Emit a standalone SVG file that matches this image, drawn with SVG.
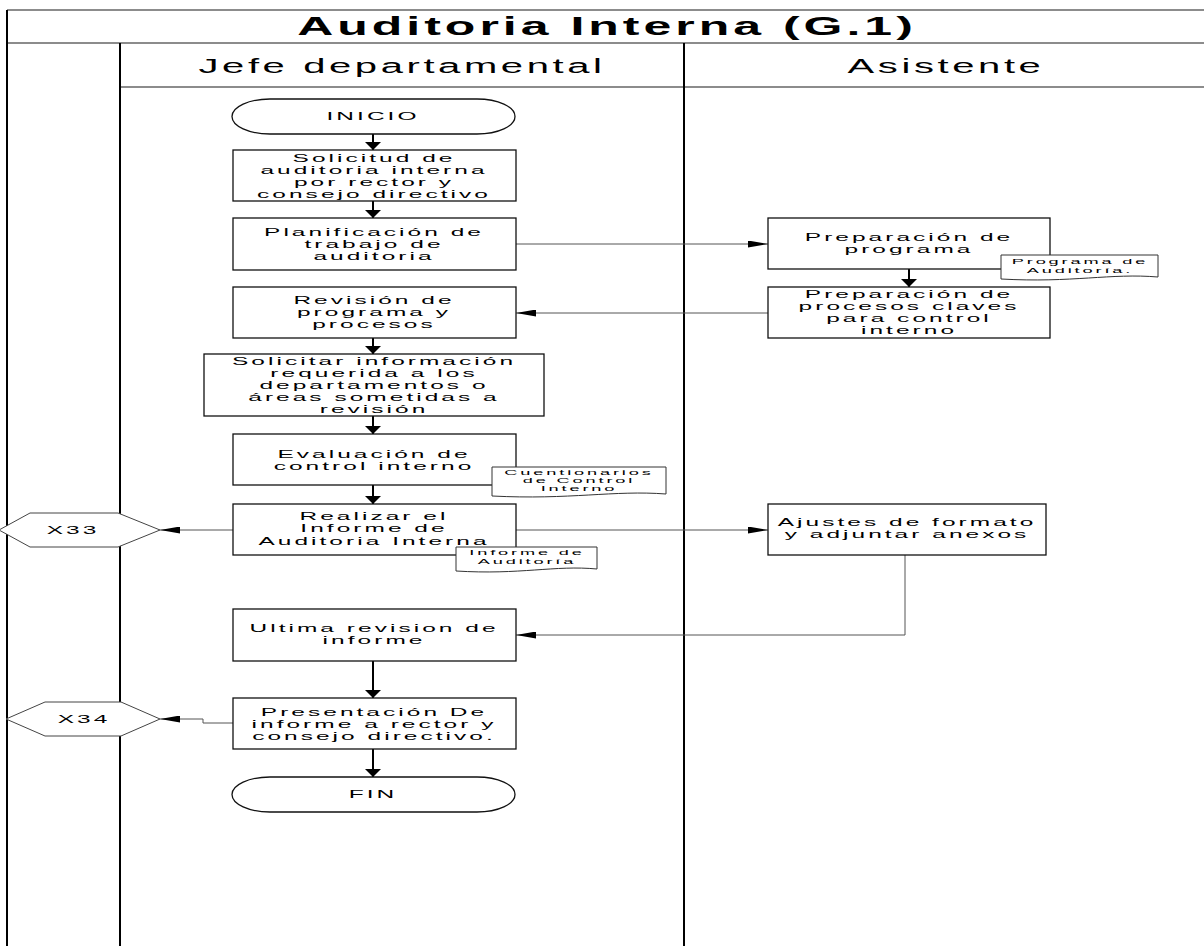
<svg xmlns="http://www.w3.org/2000/svg" width="1204" height="946" viewBox="0 0 1204 946">
<style>
text{font-family:"Liberation Sans",Arial,sans-serif;fill:#000;text-anchor:middle}
.title{font-size:25px;font-weight:bold;letter-spacing:2px}
.h{font-size:20px;letter-spacing:1.8px}
.t{font-size:10.4px;letter-spacing:1.3px}
.s{font-size:7px;letter-spacing:1.1px}
.box{fill:#fff;stroke:#111;stroke-width:1.3}
.doc{fill:#fff;stroke:#333;stroke-width:1}
.hex{fill:#fff;stroke:#444;stroke-width:1}
.lv{stroke:#000;stroke-width:2;fill:none}
.lh{stroke:#666;stroke-width:1.5;fill:none}
.cv{stroke:#000;stroke-width:2;fill:none;marker-end:url(#ad)}
.ch{stroke:#555;stroke-width:1;fill:none;marker-end:url(#ah)}
</style>
<defs>
<marker id="ad" markerUnits="userSpaceOnUse" viewBox="0 0 8 16" markerWidth="8" markerHeight="16" refX="8" refY="8" orient="auto"><path d="M0,0 L8,8 L0,16 Z" fill="#000"/></marker>
<marker id="ah" markerUnits="userSpaceOnUse" viewBox="0 0 20 7" markerWidth="20" markerHeight="7" refX="20" refY="3.5" orient="auto"><path d="M0,0 L20,3.5 L0,7 Z" fill="#000"/></marker>
</defs>
<rect width="1204" height="946" fill="#fff"/>
<g id="frame">
<line class="lh" x1="7" y1="10" x2="1204" y2="10"/>
<line class="lh" x1="7" y1="43" x2="1204" y2="43"/>
<line class="lh" x1="120" y1="87" x2="1204" y2="87"/>
<line class="lv" x1="7" y1="10" x2="7" y2="946"/>
<line class="lv" x1="120" y1="43" x2="120" y2="946"/>
<line class="lv" x1="684" y1="43" x2="684" y2="946"/>
<text class="title" transform="translate(607 0) scale(2 1)" y="35">Auditoria Interna (G.1)</text>
<text class="h" transform="translate(402 0) scale(2 1)" y="73">Jefe departamental</text>
<text class="h" transform="translate(946 0) scale(2 1)" y="73">Asistente</text>
</g>
<g id="connectors">
<line class="cv" x1="373" y1="134" x2="373" y2="150"/>
<line class="cv" x1="373" y1="201" x2="373" y2="218"/>
<line class="ch" x1="516" y1="244" x2="768" y2="244"/>
<line class="cv" x1="909" y1="269" x2="909" y2="287"/>
<line class="ch" x1="768" y1="313" x2="516" y2="313"/>
<line class="cv" x1="373" y1="338" x2="373" y2="354"/>
<line class="cv" x1="373" y1="416" x2="373" y2="434"/>
<line class="cv" x1="373" y1="485" x2="373" y2="504"/>
<line class="ch" x1="233" y1="530" x2="160" y2="530"/>
<line class="ch" x1="516" y1="530" x2="768" y2="530"/>
<polyline class="ch" points="905,555 905,635 516,635"/>
<line class="cv" x1="373" y1="661" x2="373" y2="698"/>
<polyline class="ch" points="233,723 203,723 203,719 160,719"/>
<line class="cv" x1="373" y1="749" x2="373" y2="777"/>
</g>
<g id="inicio">
<rect class="box" x="232" y="99" width="283" height="35" rx="38" ry="17.5"/>
<text class="t" transform="translate(373 0) scale(2.35 1)" y="120">INICIO</text>
</g>
<g id="solicitud">
<rect class="box" x="233" y="150" width="283" height="51"/>
<text class="t" transform="translate(374 0) scale(2.35 1)" y="162"><tspan x="0">Solicitud de</tspan><tspan x="0" dy="12">auditoria interna</tspan><tspan x="0" dy="12">por rector y</tspan><tspan x="0" dy="12">consejo directivo</tspan></text>
</g>
<g id="planificacion">
<rect class="box" x="233" y="218" width="283" height="52"/>
<text class="t" transform="translate(374 0) scale(2.35 1)" y="236"><tspan x="0">Planificación de</tspan><tspan x="0" dy="12">trabajo de</tspan><tspan x="0" dy="12">auditoria</tspan></text>
</g>
<g id="prep-programa">
<rect class="box" x="768" y="218" width="282" height="51"/>
<text class="t" transform="translate(909 0) scale(2.35 1)" y="241"><tspan x="0">Preparación de</tspan><tspan x="0" dy="12">programa</tspan></text>
</g>
<g id="doc-programa">
<path class="doc" d="M1001 255 H1158 V277 C1111 273 1072 283 1001 279 Z"/>
<text class="s" transform="translate(1080 0) scale(2.6 1)" y="264.5"><tspan x="0">Programa de</tspan><tspan x="0" dy="8.5">Auditoría.</tspan></text>
</g>
<g id="prep-procesos">
<rect class="box" x="768" y="287" width="282" height="51"/>
<text class="t" transform="translate(909 0) scale(2.35 1)" y="298"><tspan x="0">Preparación de</tspan><tspan x="0" dy="12">procesos claves</tspan><tspan x="0" dy="12">para control</tspan><tspan x="0" dy="12">interno</tspan></text>
</g>
<g id="revision">
<rect class="box" x="233" y="287" width="283" height="51"/>
<text class="t" transform="translate(374 0) scale(2.35 1)" y="304"><tspan x="0">Revisión de</tspan><tspan x="0" dy="12">programa y</tspan><tspan x="0" dy="12">procesos</tspan></text>
</g>
<g id="solicitar">
<rect class="box" x="204" y="354" width="340" height="62"/>
<text class="t" transform="translate(374 0) scale(2.35 1)" y="365"><tspan x="0">Solicitar información</tspan><tspan x="0" dy="12">requerida a los</tspan><tspan x="0" dy="12">departamentos o</tspan><tspan x="0" dy="12">áreas sometidas a</tspan><tspan x="0" dy="12">revisión</tspan></text>
</g>
<g id="evaluacion">
<rect class="box" x="233" y="434" width="283" height="51"/>
<text class="t" transform="translate(374 0) scale(2.35 1)" y="458"><tspan x="0">Evaluación de</tspan><tspan x="0" dy="12">control interno</tspan></text>
</g>
<g id="doc-cuestionarios">
<path class="doc" d="M492 467 H666 V494 C614 490 570 500 492 496 Z"/>
<text class="s" transform="translate(579 0) scale(2.6 1)" y="475"><tspan x="0">Cuentionarios</tspan><tspan x="0" dy="8.2">de Control</tspan><tspan x="0" dy="8.2">Interno</tspan></text>
</g>
<g id="realizar">
<rect class="box" x="233" y="504" width="283" height="51"/>
<text class="t" transform="translate(374 0) scale(2.35 1)" y="520"><tspan x="0">Realizar el</tspan><tspan x="0" dy="12.5">Informe de</tspan><tspan x="0" dy="12.5">Auditoria Interna</tspan></text>
</g>
<g id="doc-informe">
<path class="doc" d="M456 547 H597 V569 C555 565 520 575 456 571 Z"/>
<text class="s" transform="translate(527 0) scale(2.6 1)" y="555.5"><tspan x="0">Informe de</tspan><tspan x="0" dy="9">Auditoría</tspan></text>
</g>
<g id="x33">
<polygon class="hex" points="-1,530 30,513 118,513 160,530 118,547 30,547"/>
<text class="t" transform="translate(73 0) scale(2.35 1)" y="534">X33</text>
</g>
<g id="ajustes">
<rect class="box" x="768" y="504" width="278" height="51"/>
<text class="t" transform="translate(907 0) scale(2.35 1)" y="526"><tspan x="0">Ajustes de formato</tspan><tspan x="0" dy="12">y adjuntar anexos</tspan></text>
</g>
<g id="ultima">
<rect class="box" x="233" y="609" width="283" height="52"/>
<text class="t" transform="translate(374 0) scale(2.35 1)" y="632"><tspan x="0">Ultima revision de</tspan><tspan x="0" dy="12">informe</tspan></text>
</g>
<g id="presentacion">
<rect class="box" x="233" y="698" width="283" height="51"/>
<text class="t" transform="translate(374 0) scale(2.35 1)" y="716"><tspan x="0">Presentación De</tspan><tspan x="0" dy="12">informe a rector y</tspan><tspan x="0" dy="12">consejo directivo.</tspan></text>
</g>
<g id="x34">
<polygon class="hex" points="6,719 45,702 121,702 160,719 121,736 45,736"/>
<text class="t" transform="translate(84 0) scale(2.35 1)" y="723">X34</text>
</g>
<g id="fin">
<rect class="box" x="232" y="777" width="283" height="35" rx="38" ry="17.5"/>
<text class="t" transform="translate(373 0) scale(2.35 1)" y="798">FIN</text>
</g>
</svg>
